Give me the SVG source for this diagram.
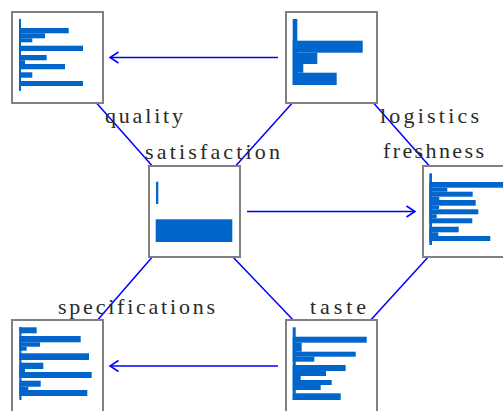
<svg xmlns="http://www.w3.org/2000/svg" width="503" height="411" viewBox="0 0 503 411">
<style>
.box{fill:#fff;stroke:#808080;stroke-width:2}
.bar{fill:#0066cc}
.edge{stroke:#0000ff;stroke-width:1.5;fill:none}
.lbl{font-family:"Liberation Serif","DejaVu Serif",serif;font-size:22px;fill:#2a2a2a}
</style>
<defs>
<marker id="arr" markerUnits="userSpaceOnUse" markerWidth="12" markerHeight="14" viewBox="-10 -7 12 14" refX="0" refY="0" orient="auto">
<path d="M-8.5,-5.5 L0,0 L-8.5,5.5" fill="none" stroke="#0000ff" stroke-width="1.5"/>
</marker>
</defs>
<rect width="503" height="411" fill="#fff"/>
<g id="connectors">
<line class="edge" x1="278" y1="57.5" x2="110" y2="57.5" marker-end="url(#arr)"/>
<line class="edge" x1="247" y1="211.5" x2="415" y2="211.5" marker-end="url(#arr)"/>
<line class="edge" x1="278" y1="366" x2="110" y2="366" marker-end="url(#arr)"/>
<line class="edge" x1="93" y1="99" x2="155" y2="169"/>
<line class="edge" x1="232" y1="170" x2="295" y2="100"/>
<line class="edge" x1="370" y1="99" x2="432" y2="169"/>
<line class="edge" x1="154" y1="255" x2="95" y2="323"/>
<line class="edge" x1="231" y1="255" x2="296" y2="323"/>
<line class="edge" x1="430" y1="255" x2="368" y2="323"/>
</g>
<g id="quality">
<rect class="box" x="12" y="12" width="91" height="91"/>
<rect class="bar" x="19" y="19" width="2" height="72"/>
<rect class="bar" x="19" y="28" width="49.7" height="5.3"/>
<rect class="bar" x="19" y="33.3" width="26" height="5"/>
<rect class="bar" x="19" y="38.3" width="13.3" height="4"/>
<rect class="bar" x="19" y="45.7" width="64" height="5.3"/>
<rect class="bar" x="19" y="55" width="27.7" height="5.3"/>
<rect class="bar" x="19" y="60.3" width="6" height="3.7"/>
<rect class="bar" x="19" y="64" width="46" height="5.3"/>
<rect class="bar" x="19" y="72.3" width="13.3" height="5.4"/>
<rect class="bar" x="19" y="81" width="64" height="5"/>
<text class="lbl" x="105" y="123" textLength="78" lengthAdjust="spacing">quality</text>
</g>
<g id="logistics">
<rect class="box" x="286" y="12" width="91" height="91"/>
<rect class="bar" x="292.7" y="19" width="4.6" height="66"/>
<rect class="bar" x="292.7" y="40.7" width="70" height="12"/>
<rect class="bar" x="292.7" y="52.7" width="24.6" height="11.3"/>
<rect class="bar" x="292.7" y="64" width="10.6" height="8.7"/>
<rect class="bar" x="292.7" y="72.7" width="44" height="12.3"/>
<text class="lbl" x="380" y="123" textLength="99" lengthAdjust="spacing">logistics</text>
</g>
<g id="satisfaction">
<rect class="box" x="149" y="166" width="91" height="91"/>
<rect class="bar" x="156" y="181.7" width="2.3" height="22.3"/>
<rect class="bar" x="155.7" y="219.3" width="76.6" height="22.7"/>
<text class="lbl" x="145" y="159" textLength="135" lengthAdjust="spacing">satisfaction</text>
</g>
<g id="freshness">
<rect class="box" x="423" y="166" width="91" height="91"/>
<rect class="bar" x="429.3" y="173.3" width="2.7" height="71.7"/>
<rect class="bar" x="429.3" y="182" width="80" height="5.7"/>
<rect class="bar" x="429.3" y="187.7" width="18" height="4"/>
<rect class="bar" x="429.3" y="191.7" width="43.4" height="5"/>
<rect class="bar" x="429.3" y="196.7" width="10" height="3.3"/>
<rect class="bar" x="429.3" y="200" width="46.4" height="5.7"/>
<rect class="bar" x="429.3" y="205.7" width="9.7" height="3.6"/>
<rect class="bar" x="429.3" y="209.3" width="49" height="5"/>
<rect class="bar" x="429.3" y="214.3" width="7.4" height="4"/>
<rect class="bar" x="429.3" y="218.3" width="43" height="5"/>
<rect class="bar" x="429.3" y="226.7" width="29.4" height="5.6"/>
<rect class="bar" x="429.3" y="232.3" width="9" height="3.7"/>
<rect class="bar" x="429.3" y="236" width="61" height="5"/>
<text class="lbl" x="383" y="158" textLength="101" lengthAdjust="spacing">freshness</text>
</g>
<g id="specifications">
<rect class="box" x="12" y="320" width="91" height="95"/>
<rect class="bar" x="19.3" y="327" width="2.2" height="73"/>
<rect class="bar" x="19.3" y="327.3" width="17.4" height="6"/>
<rect class="bar" x="19.3" y="336" width="61.4" height="6.3"/>
<rect class="bar" x="19.3" y="342.3" width="20.7" height="4.4"/>
<rect class="bar" x="19.3" y="346.7" width="7.4" height="4"/>
<rect class="bar" x="19.3" y="353.3" width="69.7" height="6.7"/>
<rect class="bar" x="19.3" y="362.7" width="24" height="6.3"/>
<rect class="bar" x="19.3" y="369" width="5.7" height="3"/>
<rect class="bar" x="19.3" y="372" width="72.4" height="6"/>
<rect class="bar" x="19.3" y="380.7" width="21.4" height="6"/>
<rect class="bar" x="19.3" y="386.7" width="9" height="3.3"/>
<rect class="bar" x="19.3" y="390" width="68" height="6"/>
<text class="lbl" x="58" y="314" textLength="157" lengthAdjust="spacing">specifications</text>
</g>
<g id="taste">
<rect class="box" x="286" y="320" width="91" height="95"/>
<rect class="bar" x="292.7" y="327.3" width="3" height="72.7"/>
<rect class="bar" x="292.7" y="336.7" width="74" height="6"/>
<rect class="bar" x="292.7" y="342.7" width="9" height="9"/>
<rect class="bar" x="292.7" y="351.7" width="63" height="5"/>
<rect class="bar" x="292.7" y="356.7" width="21.6" height="5"/>
<rect class="bar" x="292.7" y="365" width="53" height="6"/>
<rect class="bar" x="292.7" y="371" width="33.3" height="5"/>
<rect class="bar" x="292.7" y="376" width="8" height="4"/>
<rect class="bar" x="292.7" y="380" width="39" height="5"/>
<rect class="bar" x="292.7" y="385" width="28" height="5"/>
<rect class="bar" x="292.7" y="393.3" width="48" height="6.7"/>
<text class="lbl" x="310" y="314" textLength="56" lengthAdjust="spacing">taste</text>
</g>
</svg>
